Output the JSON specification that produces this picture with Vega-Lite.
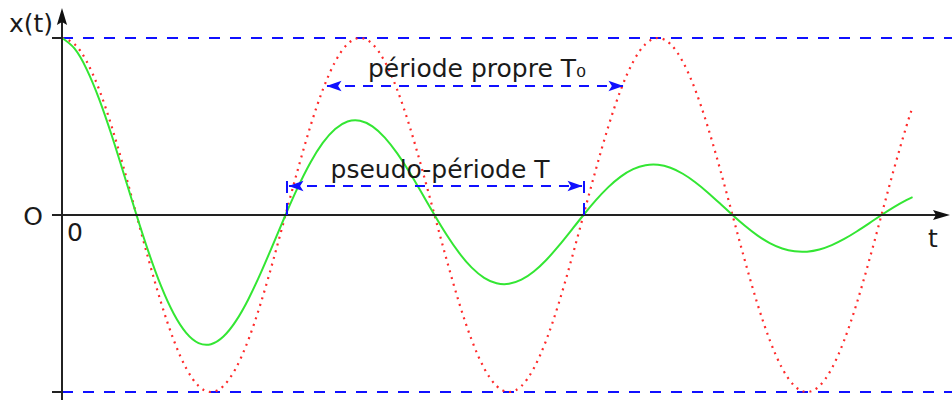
{
  "$schema": "https://vega.github.io/schema/vega-lite/v6.json",
  "width": 952,
  "height": 400,
  "padding": 0,
  "autosize": {"type": "none"},
  "background": "white",
  "config": {"view": {"stroke": null}},
  "datasets": {
    "courbes": [
      {"t": 0, "propre": 1, "amortie": 1},
      {"t": 0.0417, "propre": 0.9659, "amortie": 0.9409},
      {"t": 0.0833, "propre": 0.866, "amortie": 0.8217},
      {"t": 0.125, "propre": 0.7071, "amortie": 0.6536},
      {"t": 0.1667, "propre": 0.5, "amortie": 0.4502},
      {"t": 0.2083, "propre": 0.2588, "amortie": 0.227},
      {"t": 0.25, "propre": 0, "amortie": 0},
      {"t": 0.2917, "propre": -0.2588, "amortie": -0.2154},
      {"t": 0.3333, "propre": -0.5, "amortie": -0.4053},
      {"t": 0.375, "propre": -0.7071, "amortie": -0.5583},
      {"t": 0.4167, "propre": -0.866, "amortie": -0.6661},
      {"t": 0.4583, "propre": -0.9659, "amortie": -0.7237},
      {"t": 0.5, "propre": -1, "amortie": -0.7298},
      {"t": 0.5417, "propre": -0.9659, "amortie": -0.6866},
      {"t": 0.5833, "propre": -0.866, "amortie": -0.5997},
      {"t": 0.625, "propre": -0.7071, "amortie": -0.477},
      {"t": 0.6667, "propre": -0.5, "amortie": -0.3285},
      {"t": 0.7083, "propre": -0.2588, "amortie": -0.1656},
      {"t": 0.75, "propre": 0, "amortie": 0},
      {"t": 0.7917, "propre": 0.2588, "amortie": 0.1572},
      {"t": 0.8333, "propre": 0.5, "amortie": 0.2958},
      {"t": 0.875, "propre": 0.7071, "amortie": 0.4075},
      {"t": 0.9167, "propre": 0.866, "amortie": 0.4861},
      {"t": 0.9583, "propre": 0.9659, "amortie": 0.5281},
      {"t": 1, "propre": 1, "amortie": 0.5326},
      {"t": 1.0417, "propre": 0.9659, "amortie": 0.5011},
      {"t": 1.0833, "propre": 0.866, "amortie": 0.4376},
      {"t": 1.125, "propre": 0.7071, "amortie": 0.3481},
      {"t": 1.1667, "propre": 0.5, "amortie": 0.2398},
      {"t": 1.2083, "propre": 0.2588, "amortie": 0.1209},
      {"t": 1.25, "propre": 0, "amortie": 0},
      {"t": 1.2917, "propre": -0.2588, "amortie": -0.1147},
      {"t": 1.3333, "propre": -0.5, "amortie": -0.2159},
      {"t": 1.375, "propre": -0.7071, "amortie": -0.2974},
      {"t": 1.4167, "propre": -0.866, "amortie": -0.3547},
      {"t": 1.4583, "propre": -0.9659, "amortie": -0.3854},
      {"t": 1.5, "propre": -1, "amortie": -0.3887},
      {"t": 1.5417, "propre": -0.9659, "amortie": -0.3657},
      {"t": 1.5833, "propre": -0.866, "amortie": -0.3194},
      {"t": 1.625, "propre": -0.7071, "amortie": -0.254},
      {"t": 1.6667, "propre": -0.5, "amortie": -0.175},
      {"t": 1.7083, "propre": -0.2588, "amortie": -0.0882},
      {"t": 1.75, "propre": 0, "amortie": 0},
      {"t": 1.7917, "propre": 0.2588, "amortie": 0.0837},
      {"t": 1.8333, "propre": 0.5, "amortie": 0.1575},
      {"t": 1.875, "propre": 0.7071, "amortie": 0.217},
      {"t": 1.9167, "propre": 0.866, "amortie": 0.2589},
      {"t": 1.9583, "propre": 0.9659, "amortie": 0.2813},
      {"t": 2, "propre": 1, "amortie": 0.2837},
      {"t": 2.0417, "propre": 0.9659, "amortie": 0.2669},
      {"t": 2.0833, "propre": 0.866, "amortie": 0.2331},
      {"t": 2.125, "propre": 0.7071, "amortie": 0.1854},
      {"t": 2.1667, "propre": 0.5, "amortie": 0.1277},
      {"t": 2.2083, "propre": 0.2588, "amortie": 0.0644},
      {"t": 2.25, "propre": 0, "amortie": 0},
      {"t": 2.2917, "propre": -0.2588, "amortie": -0.0611},
      {"t": 2.3333, "propre": -0.5, "amortie": -0.115},
      {"t": 2.375, "propre": -0.7071, "amortie": -0.1584},
      {"t": 2.4167, "propre": -0.866, "amortie": -0.1889},
      {"t": 2.4583, "propre": -0.9659, "amortie": -0.2053},
      {"t": 2.5, "propre": -1, "amortie": -0.207},
      {"t": 2.5417, "propre": -0.9659, "amortie": -0.1948},
      {"t": 2.5833, "propre": -0.866, "amortie": -0.1701},
      {"t": 2.625, "propre": -0.7071, "amortie": -0.1353},
      {"t": 2.6667, "propre": -0.5, "amortie": -0.0932},
      {"t": 2.7083, "propre": -0.2588, "amortie": -0.047},
      {"t": 2.75, "propre": 0, "amortie": 0},
      {"t": 2.7917, "propre": 0.2588, "amortie": 0.0446},
      {"t": 2.8333, "propre": 0.5, "amortie": 0.0839},
      {"t": 2.8542, "propre": 0.6088, "amortie": 0.1008}
    ],
    "enveloppes": [
      {"t": 0, "t2": 2.9866, "v": 1},
      {"t": 0, "t2": 2.9866, "v": -1}
    ],
    "axes": [
      {"t": -0.0336, "t2": 2.94, "v": 0, "v2": 0},
      {"t": 0, "t2": 0, "v": -1.0452, "v2": 1.09},
      {"t": -0.0336, "t2": 0, "v": 1, "v2": 1},
      {"t": -0.0336, "t2": 0, "v": -1, "v2": -1}
    ],
    "fleche_y": [{"t": 0, "v": 1.1215}],
    "fleche_t": [{"t": 2.9513, "v": 0}],
    "cotes": [
      {"t": 0.8893, "t2": 1.8826, "v": 0.7288},
      {"t": 0.7617, "t2": 1.745, "v": 0.1638}
    ],
    "reperes_T": [
      {"t": 0.755, "v": 0.192, "v2": 0},
      {"t": 1.7517, "v": 0.192, "v2": 0}
    ],
    "pointes_g": [
      {"t": 0.9128, "v": 0.7288},
      {"t": 0.7852, "v": 0.1638}
    ],
    "pointes_d": [
      {"t": 1.859, "v": 0.7288},
      {"t": 1.7215, "v": 0.1638}
    ],
    "legendes": [
      {"t": 1.3926, "v": 0.7797, "label": "période propre T₀"},
      {"t": 1.2685, "v": 0.209, "label": "pseudo-période T"}
    ],
    "origines": [
      {"t": -0.104, "v": 1.034, "label": "x(t)"},
      {"t": -0.0973, "v": -0.0565, "label": "O"},
      {"t": 0.0436, "v": -0.147, "label": "0"},
      {"t": 2.9228, "v": -0.181, "label": "t"}
    ]
  },
  "layer": [
    {
      "data": {"name": "enveloppes"},
      "mark": {"type": "rule", "color": "#1010ff", "strokeWidth": 2, "strokeDash": [11, 10]},
      "encoding": {
        "x": {"field": "t", "type": "quantitative", "scale": {"domain": [-0.20805, 2.98658], "nice": false, "zero": false}, "axis": null},
        "x2": {"field": "t2"},
        "y": {"field": "v", "type": "quantitative", "scale": {"domain": [-1.0452, 1.2147], "nice": false, "zero": false}, "axis": null}
      }
    },
    {
      "data": {"name": "courbes"},
      "mark": {"type": "line", "color": "#ff2a2a", "strokeWidth": 2.2, "strokeDash": [2, 5], "interpolate": "natural"},
      "encoding": {
        "x": {"field": "t", "type": "quantitative", "scale": {"domain": [-0.20805, 2.98658], "nice": false, "zero": false}, "axis": null},
        "y": {"field": "propre", "type": "quantitative", "scale": {"domain": [-1.0452, 1.2147], "nice": false, "zero": false}, "axis": null}
      }
    },
    {
      "data": {"name": "courbes"},
      "mark": {"type": "line", "color": "#33e633", "strokeWidth": 2, "interpolate": "natural"},
      "encoding": {
        "x": {"field": "t", "type": "quantitative", "scale": {"domain": [-0.20805, 2.98658], "nice": false, "zero": false}, "axis": null},
        "y": {"field": "amortie", "type": "quantitative", "scale": {"domain": [-1.0452, 1.2147], "nice": false, "zero": false}, "axis": null}
      }
    },
    {
      "data": {"name": "axes"},
      "mark": {"type": "rule", "color": "#222222", "strokeWidth": 2},
      "encoding": {
        "x": {"field": "t", "type": "quantitative", "scale": {"domain": [-0.20805, 2.98658], "nice": false, "zero": false}, "axis": null},
        "x2": {"field": "t2"},
        "y": {"field": "v", "type": "quantitative", "scale": {"domain": [-1.0452, 1.2147], "nice": false, "zero": false}, "axis": null},
        "y2": {"field": "v2"}
      }
    },
    {
      "data": {"name": "fleche_y"},
      "mark": {"type": "point", "shape": "M0,-1 L0.6,1 L0,0.65 L-0.6,1 Z", "size": 289, "filled": true, "color": "#111111", "opacity": 1, "strokeWidth": 0},
      "encoding": {
        "x": {"field": "t", "type": "quantitative", "scale": {"domain": [-0.20805, 2.98658], "nice": false, "zero": false}, "axis": null},
        "y": {"field": "v", "type": "quantitative", "scale": {"domain": [-1.0452, 1.2147], "nice": false, "zero": false}, "axis": null}
      }
    },
    {
      "data": {"name": "fleche_t"},
      "mark": {"type": "point", "shape": "M1,0 L-1,-0.6 L-0.65,0 L-1,0.6 Z", "size": 289, "filled": true, "color": "#111111", "opacity": 1, "strokeWidth": 0},
      "encoding": {
        "x": {"field": "t", "type": "quantitative", "scale": {"domain": [-0.20805, 2.98658], "nice": false, "zero": false}, "axis": null},
        "y": {"field": "v", "type": "quantitative", "scale": {"domain": [-1.0452, 1.2147], "nice": false, "zero": false}, "axis": null}
      }
    },
    {
      "data": {"name": "cotes"},
      "mark": {"type": "rule", "color": "#1010ff", "strokeWidth": 2, "strokeDash": [10, 8]},
      "encoding": {
        "x": {"field": "t", "type": "quantitative", "scale": {"domain": [-0.20805, 2.98658], "nice": false, "zero": false}, "axis": null},
        "x2": {"field": "t2"},
        "y": {"field": "v", "type": "quantitative", "scale": {"domain": [-1.0452, 1.2147], "nice": false, "zero": false}, "axis": null}
      }
    },
    {
      "data": {"name": "reperes_T"},
      "mark": {"type": "rule", "color": "#1010ff", "strokeWidth": 2, "strokeDash": [12, 10]},
      "encoding": {
        "x": {"field": "t", "type": "quantitative", "scale": {"domain": [-0.20805, 2.98658], "nice": false, "zero": false}, "axis": null},
        "y": {"field": "v", "type": "quantitative", "scale": {"domain": [-1.0452, 1.2147], "nice": false, "zero": false}, "axis": null},
        "y2": {"field": "v2"}
      }
    },
    {
      "data": {"name": "pointes_g"},
      "mark": {"type": "point", "shape": "M-1,0 L1,-0.7 L0.55,0 L1,0.7 Z", "size": 225, "filled": true, "color": "#1010ff", "opacity": 1, "strokeWidth": 0},
      "encoding": {
        "x": {"field": "t", "type": "quantitative", "scale": {"domain": [-0.20805, 2.98658], "nice": false, "zero": false}, "axis": null},
        "y": {"field": "v", "type": "quantitative", "scale": {"domain": [-1.0452, 1.2147], "nice": false, "zero": false}, "axis": null}
      }
    },
    {
      "data": {"name": "pointes_d"},
      "mark": {"type": "point", "shape": "M1,0 L-1,-0.7 L-0.55,0 L-1,0.7 Z", "size": 225, "filled": true, "color": "#1010ff", "opacity": 1, "strokeWidth": 0},
      "encoding": {
        "x": {"field": "t", "type": "quantitative", "scale": {"domain": [-0.20805, 2.98658], "nice": false, "zero": false}, "axis": null},
        "y": {"field": "v", "type": "quantitative", "scale": {"domain": [-1.0452, 1.2147], "nice": false, "zero": false}, "axis": null}
      }
    },
    {
      "data": {"name": "legendes"},
      "mark": {"type": "text", "font": "DejaVu Sans", "fontSize": 25, "color": "#1a1a1a", "align": "center", "baseline": "alphabetic"},
      "encoding": {
        "x": {"field": "t", "type": "quantitative", "scale": {"domain": [-0.20805, 2.98658], "nice": false, "zero": false}, "axis": null},
        "y": {"field": "v", "type": "quantitative", "scale": {"domain": [-1.0452, 1.2147], "nice": false, "zero": false}, "axis": null},
        "text": {"field": "label"}
      }
    },
    {
      "data": {"name": "origines"},
      "mark": {"type": "text", "font": "DejaVu Sans", "fontSize": 25, "color": "#1a1a1a", "align": "center", "baseline": "alphabetic"},
      "encoding": {
        "x": {"field": "t", "type": "quantitative", "scale": {"domain": [-0.20805, 2.98658], "nice": false, "zero": false}, "axis": null},
        "y": {"field": "v", "type": "quantitative", "scale": {"domain": [-1.0452, 1.2147], "nice": false, "zero": false}, "axis": null},
        "text": {"field": "label"}
      }
    }
  ]
}
